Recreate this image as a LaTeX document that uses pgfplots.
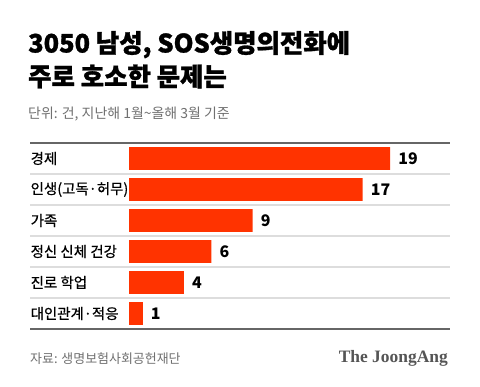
\documentclass[border=0pt]{standalone}
\usepackage{fontspec}
\setmainfont{Noto Sans CJK KR}
\newfontfamily\brandfont{Liberation Serif}
\usepackage{pgfplots}
\pgfplotsset{compat=1.18}
\definecolor{barred}{HTML}{FF3300}
\definecolor{subgray}{HTML}{707070}
\definecolor{linegray}{HTML}{666666}
\definecolor{gridgray}{HTML}{DDDDDD}
\definecolor{brandgray}{HTML}{555555}
\begin{document}
\begin{tikzpicture}[x=1bp,y=1bp]
\fill[white] (0,0) rectangle (480,386);
\node[anchor=base west, inner sep=0pt, font=\bfseries\addfontfeatures{FakeBold=1.2}\fontsize{25.5}{25.5}\selectfont] at (28,333.5) {3050 남성, SOS생명의전화에};
\node[anchor=base west, inner sep=0pt, font=\bfseries\addfontfeatures{FakeBold=1.2}\fontsize{25.5}{25.5}\selectfont] at (28,300) {주로 호소한 문제는};
\node[anchor=base west, inner sep=0pt, text=subgray, font=\fontsize{14}{14}\selectfont] at (28,268) {단위: 건, 지난해 1월\textasciitilde 올해 3월 기준};
\begin{axis}[
  at={(30bp,57bp)}, anchor=south west,
  scale only axis, width=420bp, height=186bp,
  xbar, xmin=-7.205, xmax=23.36, ymin=-0.5, ymax=5.5,
  y dir=reverse, bar width=0.74,
  xtick=\empty,
  ytick={0,1,2,3,4,5},
  yticklabels={경제, 인생(고독·허무), 가족, 정신 신체 건강, 진로 학업, 대인관계·적응},
  yticklabel style={anchor=west, inner sep=0pt, xshift=0.5bp, font=\addfontfeatures{FakeBold=0.6}\fontsize{14.5}{14.5}\selectfont},
  minor ytick={0.5,1.5,2.5,3.5,4.5},
  yminorgrids,
  minor grid style={color=gridgray, line width=1.2bp},
  major tick length=0pt, minor tick length=0pt,
  separate axis lines,
  x axis line style={draw=linegray, line width=1.5bp},
  y axis line style={draw=none},
  /pgf/number format/assume math mode=true,
  nodes near coords,
  nodes near coords style={anchor=west, inner sep=0pt, xshift=8bp, font=\bfseries\fontsize{16}{16}\selectfont},
  clip=false,
]
\addplot[fill=barred, draw=none] coordinates {(19,0) (17,1) (9,2) (6,3) (4,4) (1,5)};
\end{axis}
\node[anchor=base west, inner sep=0pt, text=subgray, font=\fontsize{13}{13}\selectfont] at (30,23) {자료: 생명보험사회공헌재단};
\node[anchor=base east, inner sep=0pt, text=brandgray, font=\brandfont\bfseries\fontsize{17.5}{17.5}\selectfont] at (448,24) {The JoongAng};
\end{tikzpicture}
\end{document}
